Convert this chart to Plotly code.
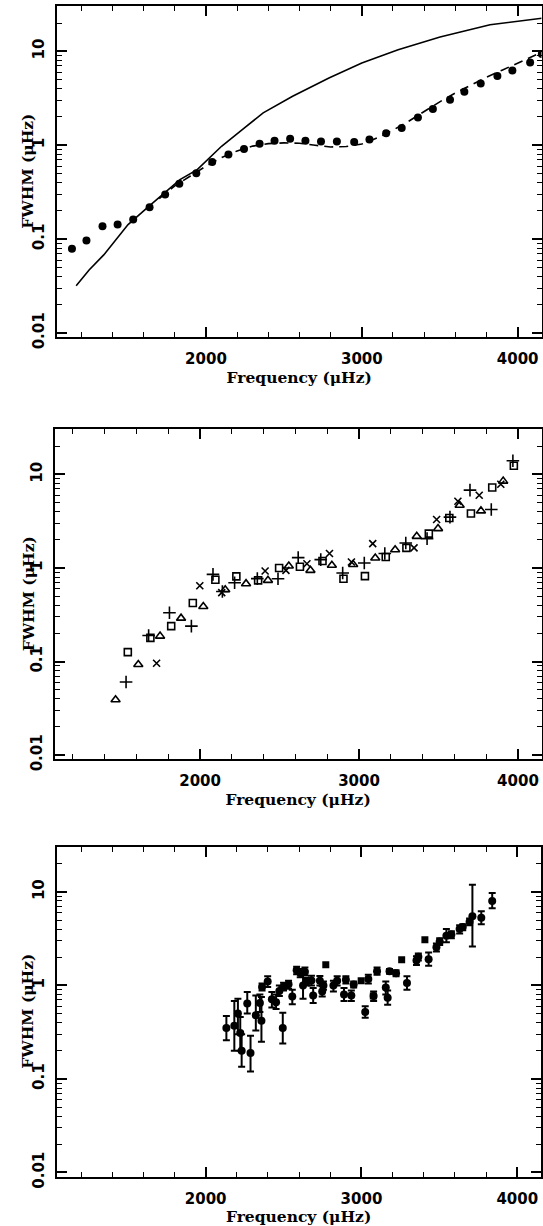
import numpy as np
import plotly.graph_objects as go

# ---- panel 1: observed widths (dots) and two model curves ----
p1_freq = [1140, 1233, 1336, 1433, 1533, 1638, 1738, 1829, 1938, 2040, 2144, 2244,
           2344, 2440, 2540, 2638, 2738, 2840, 2951, 3049, 3156, 3256, 3360, 3456,
           3566, 3658, 3763, 3870, 3966, 4080, 4155]
p1_fwhm = [0.079, 0.097, 0.137, 0.143, 0.162, 0.219, 0.299, 0.388, 0.504, 0.665, 0.796,
           0.914, 1.04, 1.12, 1.17, 1.12, 1.10, 1.10, 1.08, 1.15, 1.34, 1.53, 1.97,
           2.44, 3.06, 3.72, 4.55, 5.47, 6.25, 7.6, 9.4]

solid_freq = [1167, 1250, 1344, 1420, 1500, 1633, 1833, 1944, 2100, 2233, 2367, 2556,
              2789, 3000, 3233, 3502, 3823, 4155]
solid_fwhm = [0.032, 0.047, 0.068, 0.098, 0.143, 0.224, 0.43, 0.551, 0.975, 1.47, 2.21,
              3.32, 5.2, 7.5, 10.4, 14.2, 19.2, 22.5]

dash_freq = [1700, 1800, 1900, 2000, 2100, 2200, 2300, 2400, 2500, 2600, 2700, 2800,
             2900, 3000, 3100, 3200, 3300, 3400, 3500, 3600, 3700, 3800, 3900, 4000,
             4100, 4155]
dash_fwhm = [0.27, 0.37, 0.47, 0.6, 0.74, 0.87, 0.98, 1.04, 1.06, 1.05, 1.0, 0.96,
             0.97, 1.03, 1.2, 1.45, 1.8, 2.3, 2.9, 3.6, 4.4, 5.3, 6.3, 7.5, 8.9, 9.8]

# ---- panel 2: four data sets ----
plus_freq = [1534, 1676, 1807, 1945, 2081, 2140, 2217, 2360, 2490, 2617, 2759, 2897,
             3033, 3162, 3294, 3428, 3572, 3698, 3832, 3968]
plus_fwhm = [0.0605, 0.19, 0.332, 0.239, 0.855, 0.56, 0.697, 0.77, 0.769, 1.29, 1.23,
             0.883, 1.13, 1.43, 1.85, 2.06, 3.5, 6.8, 4.22, 14.0]

cross_freq = [1726, 1998, 2136, 2409, 2540, 2672, 2814, 2952, 3086, 3346, 3488, 3622,
              3756, 3892]
cross_fwhm = [0.096, 0.647, 0.545, 0.928, 0.944, 1.11, 1.43, 1.16, 1.82, 1.64, 3.3,
              5.18, 6.0, 7.87]

square_freq = [1545, 1687, 1818, 1954, 2096, 2228, 2365, 2497, 2628, 2770, 2902, 3037,
               3168, 3298, 3439, 3568, 3704, 3838, 3974]
square_fwhm = [0.126, 0.179, 0.239, 0.422, 0.75, 0.815, 0.738, 1.0, 1.03, 1.19, 0.769,
               0.82, 1.31, 1.64, 2.33, 3.43, 3.82, 7.26, 12.4]

tri_freq = [1468, 1611, 1748, 1880, 2020, 2158, 2289, 2427, 2558, 2694, 2829, 2963,
            3102, 3227, 3363, 3497, 3633, 3767, 3907]
tri_fwhm = [0.039, 0.093, 0.187, 0.291, 0.388, 0.586, 0.68, 0.738, 1.05, 0.944, 1.07,
            1.09, 1.28, 1.57, 2.18, 2.64, 4.69, 4.08, 8.49]

# ---- panel 3: widths with error bars (lower / upper ends) ----
p3_freq = [2133, 2184, 2207, 2222, 2231, 2267, 2288, 2322, 2348, 2358, 2362, 2398,
           2425, 2452, 2473, 2495, 2500, 2532, 2556, 2584, 2607, 2625, 2637, 2650,
           2679, 2690, 2733, 2748, 2756, 2820, 2844, 2888, 2900, 2935, 2950, 3024,
           3044, 3078, 3100, 3156, 3168, 3180, 3222, 3292, 3353, 3365, 3431, 3481,
           3502, 3545, 3577, 3630, 3650, 3694, 3712, 3769, 3839]
p3_fwhm = [0.35, 0.37, 0.50, 0.31, 0.20, 0.64, 0.19, 0.48, 0.65, 0.42, 0.96, 1.10,
           0.71, 0.66, 0.87, 0.35, 0.97, 1.03, 0.76, 1.45, 1.36, 1.00, 1.40, 1.10,
           1.13, 0.78, 1.12, 0.86, 1.00, 1.00, 1.12, 0.80, 1.15, 0.78, 1.02, 0.52,
           1.17, 0.77, 1.42, 0.95, 0.74, 1.42, 1.35, 1.06, 1.85, 2.03, 1.90, 2.56,
           2.95, 3.40, 3.50, 4.00, 4.20, 4.80, 5.50, 5.30, 8.00]
p3_lo = [0.26, 0.20, 0.30, 0.20, 0.135, 0.50, 0.12, 0.33, 0.52, 0.25, 0.88, 0.96,
         0.58, 0.56, 0.77, 0.24, 0.88, 0.92, 0.63, 1.32, 1.22, 0.72, 1.28, 1.00,
         1.00, 0.65, 1.00, 0.76, 0.90, 0.86, 1.00, 0.68, 1.05, 0.68, 0.95, 0.45,
         1.05, 0.68, 1.30, 0.80, 0.62, 1.33, 1.25, 0.90, 1.65, 1.85, 1.62, 2.30,
         2.70, 2.90, 3.20, 3.60, 3.90, 4.40, 2.60, 4.50, 6.70]
p3_hi = [0.47, 0.68, 0.72, 0.46, 0.30, 0.85, 0.29, 0.78, 0.80, 0.75, 1.05, 1.25,
         0.85, 0.80, 1.00, 0.51, 1.07, 1.12, 0.90, 1.58, 1.50, 1.30, 1.55, 1.20,
         1.27, 0.94, 1.26, 0.98, 1.10, 1.12, 1.25, 0.94, 1.25, 0.88, 1.10, 0.60,
         1.30, 0.86, 1.55, 1.10, 0.88, 1.50, 1.45, 1.25, 2.05, 2.20, 2.25, 2.80,
         3.20, 4.00, 3.80, 4.40, 4.50, 5.20, 11.9, 6.20, 9.70]

p3_sq_freq = [2771, 2998, 3076, 3258, 3407]
p3_sq_fwhm = [1.66, 1.12, 0.77, 1.88, 3.08]

W, H = 543, 1226
# pixel boxes of the three frames: (left, right, top, bottom)
boxes = [(57, 541.5, 6, 337.3), (54.7, 541.5, 429.3, 759.3), (56.7, 540.5, 846.7, 1176.7)]
xranges = [[1044, 4153], [1085, 4148], [1044, 4149]]
yrange = [-2.045, 1.483]

tick_font = dict(family="DejaVu Sans", size=15, color="black")
title_font = dict(family="DejaVu Serif", size=15.5, color="black")

fig = go.Figure()

# panel 1
fig.add_trace(go.Scatter(x=solid_freq, y=solid_fwhm, mode="lines",
                         line=dict(color="black", width=1.6), xaxis="x", yaxis="y"))
fig.add_trace(go.Scatter(x=dash_freq, y=dash_fwhm, mode="lines",
                         line=dict(color="black", width=1.6, dash="9px,6px"), xaxis="x", yaxis="y"))
fig.add_trace(go.Scatter(x=p1_freq, y=p1_fwhm, mode="markers",
                         marker=dict(symbol="circle", size=8, color="black"), xaxis="x", yaxis="y"))

# panel 2
sym_line = dict(color="black", width=1.6)
fig.add_trace(go.Scatter(x=plus_freq, y=plus_fwhm, mode="markers", xaxis="x2", yaxis="y2",
                         marker=dict(symbol="cross-thin", size=9, line=sym_line)))
fig.add_trace(go.Scatter(x=cross_freq, y=cross_fwhm, mode="markers", xaxis="x2", yaxis="y2",
                         marker=dict(symbol="x-thin", size=7, line=sym_line)))
fig.add_trace(go.Scatter(x=square_freq, y=square_fwhm, mode="markers", xaxis="x2", yaxis="y2",
                         marker=dict(symbol="square-open", size=7, color="black", line=dict(width=1.6))))
fig.add_trace(go.Scatter(x=tri_freq, y=tri_fwhm, mode="markers", xaxis="x2", yaxis="y2",
                         marker=dict(symbol="triangle-up-open", size=8, color="black", line=dict(width=1.6))))

# panel 3
p3_v = np.array(p3_fwhm)
fig.add_trace(go.Scatter(
    x=p3_freq, y=p3_fwhm, mode="markers", xaxis="x3", yaxis="y3",
    marker=dict(symbol="circle", size=8, color="black"),
    error_y=dict(type="data", symmetric=False, array=np.array(p3_hi) - p3_v,
                 arrayminus=p3_v - np.array(p3_lo), color="black", thickness=2, width=3.5)))
fig.add_trace(go.Scatter(x=p3_sq_freq, y=p3_sq_fwhm, mode="markers", xaxis="x3", yaxis="y3",
                         marker=dict(symbol="square", size=7, color="black")))

minor_y = [m * 10.0 ** e for e in range(-3, 2) for m in range(2, 10)]
layout = dict(width=W, height=H, showlegend=False, plot_bgcolor="white", paper_bgcolor="white",
              margin=dict(l=0, r=0, t=0, b=0))
annotations = []
for i, (l, r, t, b) in enumerate(boxes):
    sfx = "" if i == 0 else str(i + 1)
    layout["xaxis" + sfx] = dict(
        domain=[l / W, r / W], range=xranges[i], anchor="y" + sfx,
        showgrid=False, zeroline=False, showline=True, linecolor="black", linewidth=1.8,
        mirror="ticks", ticks="inside", ticklen=10, tickwidth=1.5, tickcolor="black",
        tickvals=[2000, 3000, 4000], ticktext=["<b>2000</b>", "<b>3000</b>", "<b>4000</b>"],
        tickfont=tick_font, ticklabelstandoff=7,
        minor=dict(tickvals=list(range(1200, 4200, 200)), ticks="inside", ticklen=5,
                   tickwidth=1.3, tickcolor="black", showgrid=False),
        title=dict(text="<b>Frequency (μHz)</b>", font=title_font, standoff=4),
        automargin=False)
    layout["yaxis" + sfx] = dict(
        domain=[1 - b / H, 1 - t / H], type="log", range=yrange, anchor="x" + sfx,
        showgrid=False, zeroline=False, showline=True, linecolor="black", linewidth=1.8,
        mirror="ticks", ticks="inside", ticklen=10, tickwidth=1.5, tickcolor="black",
        tickvals=[0.01, 0.1, 1, 10], ticktext=["<b>0.01</b>", "<b>0.1</b>", "<b>1</b>", "<b>10</b>"],
        tickangle=-90, tickfont=tick_font, ticklabelstandoff=5,
        minor=dict(tickvals=minor_y, ticks="inside", ticklen=5, tickwidth=1.3,
                   tickcolor="black", showgrid=False),
        automargin=False)
    # y title placed by hand, close to the rotated tick labels
    annotations.append(dict(text="<b>FWHM (μHz)</b>", font=title_font, textangle=-90,
                            xref="paper", yref="paper", x=28 / W, y=1 - (t + b) / 2 / H,
                            showarrow=False, xanchor="center", yanchor="middle"))

layout["annotations"] = annotations
fig.update_layout(**layout)
fig.write_html("out.html", config={"displayModeBar": False},
               post_script="document.body.style.margin='0';")
